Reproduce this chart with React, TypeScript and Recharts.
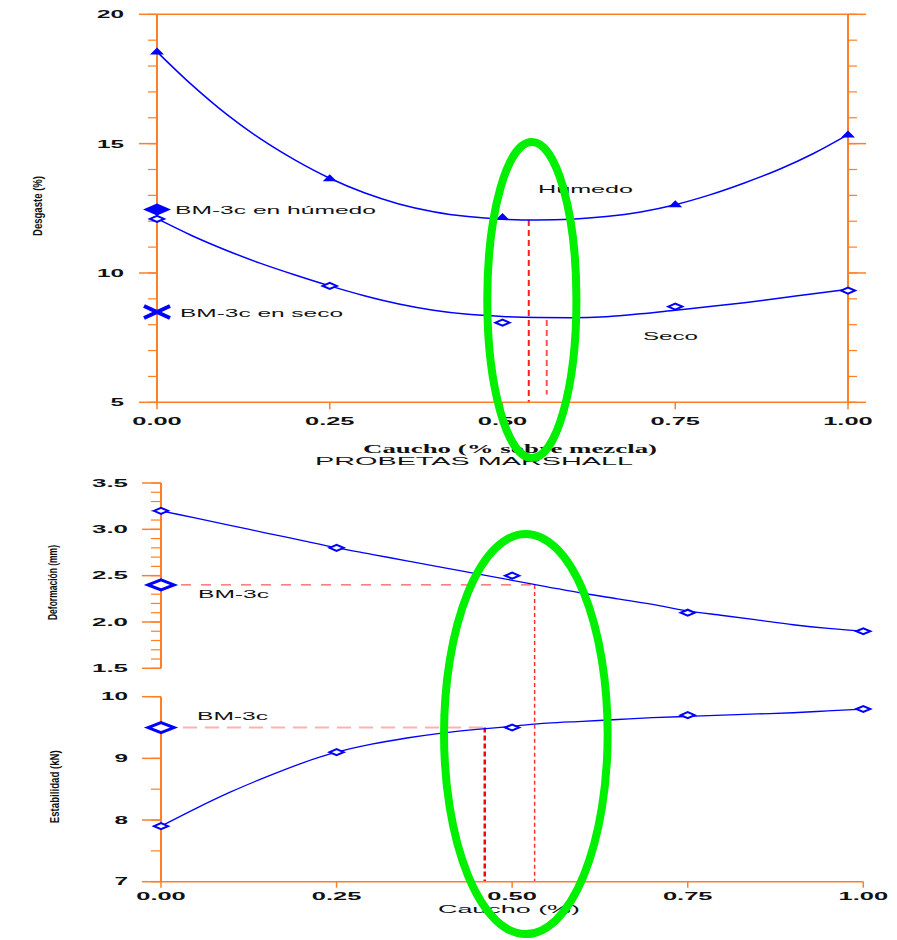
import React from "react";
import { ComposedChart, Line, Scatter, XAxis, YAxis, ReferenceLine } from "recharts";

// puntos de ensayo (caucho % sobre mezcla)
const caucho = [0, 0.25, 0.5, 0.75, 1];
const desgasteHumedo = [18.58, 13.68, 12.18, 12.68, 15.37];
const desgasteSeco = [12.09, 9.5, 8.08, 8.7, 9.32];
const deformacion = [3.2, 2.8, 2.5, 2.1, 1.9];
const estabilidad = [7.9, 9.1, 9.5, 9.7, 9.8];

const ajusteCaucho = [0, 0.05, 0.1, 0.15, 0.2, 0.25, 0.3, 0.35, 0.4, 0.45, 0.5, 0.55, 0.6, 0.65, 0.7, 0.75, 0.8, 0.85, 0.9, 0.95, 1];
const ajusteHumedo = [18.55, 17.28, 16.15, 15.18, 14.36, 13.66, 13.1, 12.67, 12.37, 12.18, 12.08, 12.05, 12.08, 12.18, 12.36, 12.64, 13.02, 13.48, 14.0, 14.62, 15.35];
const ajusteSeco = [12.1, 11.45, 10.88, 10.37, 9.92, 9.5, 9.12, 8.8, 8.56, 8.4, 8.32, 8.28, 8.27, 8.31, 8.42, 8.56, 8.7, 8.85, 9.02, 9.2, 9.37];
const ajusteDeformacion = [3.2, 3.12, 3.04, 2.96, 2.88, 2.8, 2.73, 2.66, 2.59, 2.52, 2.45, 2.38, 2.31, 2.25, 2.19, 2.12, 2.07, 2.02, 1.97, 1.93, 1.9];
const ajusteEstabilidad = [7.9, 8.19, 8.46, 8.7, 8.92, 9.1, 9.23, 9.33, 9.41, 9.47, 9.52, 9.57, 9.6, 9.63, 9.66, 9.68, 9.7, 9.72, 9.74, 9.77, 9.8];

// referencia BM-3c y contenidos de caucho que la igualan
const bmHumedo = 12.45;
const bmSeco = 8.49;
const bmDeformacion = 2.4;
const bmEstabilidad = 9.5;
const optHumedo = 0.538;
const optSeco = 0.564;
const optDeformacion = 0.532;
const optEstabilidad = 0.461;
const minHumedo = 12.05;
const minSeco = 8.18;

// ticks
const xMajor = [0, 0.25, 0.5, 0.75, 1];
const xMinor = [0, 0.05, 0.1, 0.15, 0.2, 0.25, 0.3, 0.35, 0.4, 0.45, 0.5, 0.55, 0.6, 0.65, 0.7, 0.75, 0.8, 0.85, 0.9, 0.95, 1];
const desgasteMajor = [5, 10, 15, 20];
const desgasteMinor = [5, 6, 7, 8, 9, 10, 11, 12, 13, 14, 15, 16, 17, 18, 19, 20];
const deformMajor = [1.5, 2, 2.5, 3, 3.5];
const deformMinor = [1.5, 1.6, 1.7, 1.8, 1.9, 2, 2.1, 2.2, 2.3, 2.4, 2.5, 2.6, 2.7, 2.8, 2.9, 3, 3.1, 3.2, 3.3, 3.4, 3.5];
const estabMajor = [7, 8, 9, 10];
const estabMinor = [7, 7.5, 8, 8.5, 9, 9.5, 10];

const ORANGE = "#ff7f27";
const BLUE = "#0000ff";
const RED = "#ff1a1a";
const GREEN = "#00f000";
const SANS = "'Liberation Sans', Arial, sans-serif";
const SERIF = "'Liberation Serif', 'Times New Roman', serif";
const W = 897;
const AX = 0.001; // axes take no room; margins place the plot

// plot boxes (pixels on the page)
const plotA = { top: 0, h: 440, x0: 157, x1: 848, yb: 402.3, yt: 14.3, lo: 5, hi: 20 };
const plotB = { top: 470, h: 230, x0: 161, x1: 863.3, yb: 668.3, yt: 483, lo: 1.5, hi: 3.5 };
const plotC = { top: 680, h: 260, x0: 161, x1: 863.3, yb: 881.7, yt: 696.7, lo: 7, hi: 10 };

const marginOf = (p: any) => ({ left: p.x0, right: W - p.x1, top: p.yt - p.top, bottom: p.top + p.h - p.yb });
const sx = (p: any, v: number) => p.x0 + v * (p.x1 - p.x0);
const sy = (p: any, v: number) => p.yb - ((v - p.lo) / (p.hi - p.lo)) * (p.yb - p.yt);

// ellipses verdes (en unidades de datos)
const elipseA = { x: [0.478, 0.607], y: [2.85, 15.06] };
const elipseC = { x: [0.403, 0.636], y: [6.15, 12.64] };

const pts = (xs: number[], ys: number[]) => xs.map((x, i) => ({ x, y: ys[i] }));

function StretchText({ x, y, w, text, size, anchor = "start", family = SANS, weight = 400 }: any) {
  const x0 = anchor === "end" ? x - w : anchor === "middle" ? x - w / 2 : x;
  return (
    <text x={x0} y={y} fontSize={size} fontFamily={family} fontWeight={weight} fill="#111" textLength={w} lengthAdjust="spacingAndGlyphs">
      {text}
    </text>
  );
}

function VText({ x, cy, w, text, size }: any) {
  return (
    <g transform={`rotate(-90 ${x} ${cy})`}>
      <StretchText x={x} y={cy} w={w} text={text} size={size} anchor="middle" weight={700} />
    </g>
  );
}

const labelW = (s: string, digit: number, dot: number) => s.split("").reduce((w, c) => w + (c === "." ? dot : digit), 0);

const yTick = (dec: number, size: number) => (p: any) => {
  const s = Number(p.payload.value).toFixed(dec);
  return <StretchText key={s} x={p.x} y={p.y + size * 0.37} w={labelW(s, 13.5, 9)} text={s} size={size} anchor="end" weight={700} />;
};
const xTick = (size: number) => (p: any) => {
  const s = Number(p.payload.value).toFixed(2);
  return <StretchText key={s} x={p.x} y={p.y + size * 0.72} w={labelW(s, 13.5, 9)} text={s} size={size} anchor="middle" weight={700} />;
};
// tick marks without labels
const NoLabel = () => <g />;

const Triangle = (p: any) => (
  <polygon points={`${p.cx - 7},${p.cy + 3.5} ${p.cx + 7},${p.cy + 3.5} ${p.cx},${p.cy - 3.5}`} fill={BLUE} />
);
const Diamond = (p: any) => (
  <polygon points={`${p.cx - 7},${p.cy} ${p.cx},${p.cy - 3} ${p.cx + 7},${p.cy} ${p.cx},${p.cy + 3}`} fill="#fff" stroke={BLUE} strokeWidth={2} />
);
const BigDiamond = (p: any) => (
  <polygon points={`${p.cx - 14},${p.cy} ${p.cx},${p.cy - 6} ${p.cx + 14},${p.cy} ${p.cx},${p.cy + 6}`} fill={BLUE} />
);
const BigCross = (p: any) => (
  <g stroke={BLUE} strokeWidth={4}>
    <line x1={p.cx - 13} y1={p.cy - 6} x2={p.cx + 13} y2={p.cy + 6} />
    <line x1={p.cx - 13} y1={p.cy + 6} x2={p.cx + 13} y2={p.cy - 6} />
  </g>
);
const BigOpenDiamond = (p: any) => (
  <polygon points={`${p.cx - 13},${p.cy} ${p.cx},${p.cy - 5} ${p.cx + 13},${p.cy} ${p.cx},${p.cy + 5}`} fill="#fff" stroke={BLUE} strokeWidth={3} />
);

const axisLineY = { stroke: ORANGE, strokeWidth: 2 };
const axisLineX = { stroke: ORANGE, strokeWidth: 1.5 };
const tickLine = { stroke: ORANGE, strokeWidth: 1.5 };
const minorLine = { stroke: ORANGE, strokeWidth: 1.2 };

function ChartDesgaste() {
  const m = marginOf(plotA);
  return (
    <ComposedChart width={W} height={plotA.h} margin={m}>
      <XAxis xAxisId="b" dataKey="x" type="number" domain={[0, 1]} ticks={xMajor} interval={0} height={AX} tickSize={7} tickMargin={8} axisLine={axisLineX} tickLine={tickLine} tick={xTick(11)} />
      <XAxis xAxisId="bm" type="number" domain={[0, 1]} allowDataOverflow ticks={xMinor} interval={0} height={AX} tickSize={4} axisLine={false} tickLine={minorLine} tick={NoLabel} />
      <XAxis xAxisId="t" orientation="top" type="number" domain={[0, 1]} allowDataOverflow ticks={xMajor} interval={0} height={AX} tickSize={7} axisLine={axisLineX} tickLine={tickLine} tick={NoLabel} />
      <XAxis xAxisId="tm" orientation="top" type="number" domain={[0, 1]} allowDataOverflow ticks={xMinor} interval={0} height={AX} tickSize={3} axisLine={false} tickLine={minorLine} tick={NoLabel} />
      <YAxis yAxisId="l" type="number" domain={[plotA.lo, plotA.hi]} ticks={desgasteMajor} interval={0} width={AX} tickSize={18} tickMargin={15} axisLine={axisLineY} tickLine={tickLine} tick={yTick(0, 11)} />
      <YAxis yAxisId="lm" type="number" domain={[plotA.lo, plotA.hi]} allowDataOverflow ticks={desgasteMinor} interval={0} width={AX} tickSize={9} axisLine={false} tickLine={minorLine} tick={NoLabel} />
      <YAxis yAxisId="r" orientation="right" type="number" domain={[plotA.lo, plotA.hi]} allowDataOverflow ticks={desgasteMajor} interval={0} width={AX} tickSize={18} axisLine={axisLineY} tickLine={tickLine} tick={NoLabel} />
      <YAxis yAxisId="rm" orientation="right" type="number" domain={[plotA.lo, plotA.hi]} allowDataOverflow ticks={desgasteMinor} interval={0} width={AX} tickSize={9} axisLine={false} tickLine={minorLine} tick={NoLabel} />

      <ReferenceLine xAxisId="b" yAxisId="l" segment={[{ x: optHumedo, y: minHumedo }, { x: optHumedo, y: plotA.lo }]} stroke={RED} strokeWidth={2} strokeDasharray="6 4" />
      <ReferenceLine xAxisId="b" yAxisId="l" segment={[{ x: optSeco, y: minSeco }, { x: optSeco, y: 5.3 }]} stroke="#ff5050" strokeWidth={2} strokeDasharray="6 4" />

      <Line xAxisId="b" yAxisId="l" data={pts(ajusteCaucho, ajusteHumedo)} dataKey="y" type="monotone" dot={false} stroke={BLUE} strokeWidth={1.5} isAnimationActive={false} />
      <Line xAxisId="b" yAxisId="l" data={pts(ajusteCaucho, ajusteSeco)} dataKey="y" type="monotone" dot={false} stroke={BLUE} strokeWidth={1.5} isAnimationActive={false} />
      <Scatter xAxisId="b" yAxisId="l" data={pts(caucho, desgasteHumedo)} dataKey="y" shape={Triangle} isAnimationActive={false} />
      <Scatter xAxisId="b" yAxisId="l" data={pts(caucho, desgasteSeco)} dataKey="y" shape={Diamond} isAnimationActive={false} />
      <Scatter xAxisId="b" yAxisId="l" data={[{ x: 0, y: bmHumedo }]} dataKey="y" shape={BigDiamond} isAnimationActive={false} />
      <Scatter xAxisId="b" yAxisId="l" data={[{ x: 0, y: bmSeco }]} dataKey="y" shape={BigCross} isAnimationActive={false} />
    </ComposedChart>
  );
}

function ChartDeformacion() {
  const m = marginOf(plotB);
  return (
    <ComposedChart width={W} height={plotB.h} margin={m}>
      <XAxis xAxisId="b" dataKey="x" type="number" domain={[0, 1]} hide />
      <YAxis yAxisId="l" type="number" domain={[plotB.lo, plotB.hi]} ticks={deformMajor} interval={0} width={AX} tickSize={19} tickMargin={14} axisLine={axisLineY} tickLine={tickLine} tick={yTick(1, 10)} />
      <YAxis yAxisId="lm" type="number" domain={[plotB.lo, plotB.hi]} allowDataOverflow ticks={deformMinor} interval={0} width={AX} tickSize={10} axisLine={false} tickLine={minorLine} tick={NoLabel} />

      <ReferenceLine xAxisId="b" yAxisId="l" segment={[{ x: 0, y: bmDeformacion }, { x: optDeformacion, y: bmDeformacion }]} stroke="#ff5a5a" strokeWidth={1.2} strokeDasharray="10 10" />
      <ReferenceLine xAxisId="b" yAxisId="l" ifOverflow="visible" segment={[{ x: optDeformacion, y: bmDeformacion }, { x: optDeformacion, y: 1.2 }]} stroke="#ff3030" strokeWidth={1.5} strokeDasharray="4 3" />

      <Line xAxisId="b" yAxisId="l" data={pts(ajusteCaucho, ajusteDeformacion)} dataKey="y" type="monotone" dot={false} stroke={BLUE} strokeWidth={1.3} isAnimationActive={false} />
      <Scatter xAxisId="b" yAxisId="l" data={pts(caucho, deformacion)} dataKey="y" shape={Diamond} isAnimationActive={false} />
      <Scatter xAxisId="b" yAxisId="l" data={[{ x: 0, y: bmDeformacion }]} dataKey="y" shape={BigOpenDiamond} isAnimationActive={false} />
    </ComposedChart>
  );
}

function ChartEstabilidad() {
  const m = marginOf(plotC);
  return (
    <ComposedChart width={W} height={plotC.h} margin={m}>
      <XAxis xAxisId="b" dataKey="x" type="number" domain={[0, 1]} ticks={xMajor} interval={0} height={AX} tickSize={6} tickMargin={5} axisLine={axisLineX} tickLine={tickLine} tick={xTick(10)} />
      <XAxis xAxisId="bm" type="number" domain={[0, 1]} allowDataOverflow ticks={xMinor} interval={0} height={AX} tickSize={3.5} axisLine={false} tickLine={minorLine} tick={NoLabel} />
      <YAxis yAxisId="l" type="number" domain={[plotC.lo, plotC.hi]} ticks={estabMajor} interval={0} width={AX} tickSize={19} tickMargin={14} axisLine={axisLineY} tickLine={tickLine} tick={yTick(0, 10)} />
      <YAxis yAxisId="lm" type="number" domain={[plotC.lo, plotC.hi]} allowDataOverflow ticks={estabMinor} interval={0} width={AX} tickSize={10} axisLine={false} tickLine={minorLine} tick={NoLabel} />

      <ReferenceLine xAxisId="b" yAxisId="l" segment={[{ x: 0, y: bmEstabilidad }, { x: optEstabilidad, y: bmEstabilidad }]} stroke="#ffb0b0" strokeWidth={2} strokeDasharray="14 8" />
      <ReferenceLine xAxisId="b" yAxisId="l" segment={[{ x: optEstabilidad, y: bmEstabilidad }, { x: optEstabilidad, y: plotC.lo }]} stroke="#ff0000" strokeWidth={2.5} strokeDasharray="5 3" />
      <ReferenceLine xAxisId="b" yAxisId="l" segment={[{ x: optDeformacion, y: plotC.hi }, { x: optDeformacion, y: plotC.lo }]} stroke="#ff3030" strokeWidth={1.5} strokeDasharray="4 3" />

      <Line xAxisId="b" yAxisId="l" data={pts(ajusteCaucho, ajusteEstabilidad)} dataKey="y" type="monotone" dot={false} stroke={BLUE} strokeWidth={1.3} isAnimationActive={false} />
      <Scatter xAxisId="b" yAxisId="l" data={pts(caucho, estabilidad)} dataKey="y" shape={Diamond} isAnimationActive={false} />
      <Scatter xAxisId="b" yAxisId="l" data={[{ x: 0, y: bmEstabilidad }]} dataKey="y" shape={BigOpenDiamond} isAnimationActive={false} />
    </ComposedChart>
  );
}

function Ellipse({ p, e }: any) {
  const xa = sx(p, e.x[0]);
  const xb = sx(p, e.x[1]);
  const ya = sy(p, e.y[1]);
  const yb = sy(p, e.y[0]);
  return <ellipse cx={(xa + xb) / 2} cy={(ya + yb) / 2} rx={(xb - xa) / 2} ry={(yb - ya) / 2} fill="none" stroke={GREEN} strokeWidth={8} />;
}

export default function App() {
  return (
    <div style={{ position: "absolute", left: 0, top: 0, width: W, height: 940, background: "#fff", overflow: "hidden" }}>
      <div style={{ position: "absolute", left: 0, top: plotA.top }}>
        <ChartDesgaste />
      </div>
      <div style={{ position: "absolute", left: 0, top: plotB.top }}>
        <ChartDeformacion />
      </div>
      <div style={{ position: "absolute", left: 0, top: plotC.top }}>
        <ChartEstabilidad />
      </div>
      <svg width={W} height={940} style={{ position: "absolute", left: 0, top: 0, pointerEvents: "none" }}>
        <VText x={41.7} cy={206} w={60} text="Desgaste (%)" size={13} />
        <StretchText x={175} y={213.5} w={201} text="BM-3c en húmedo" size={11} />
        <StretchText x={180} y={316.5} w={163} text="BM-3c en seco" size={11} />
        <StretchText x={538} y={193.3} w={95} text="Húmedo" size={11} />
        <StretchText x={643} y={340} w={55} text="Seco" size={11} />
        <StretchText x={363} y={453} w={294} text="Caucho (% sobre mezcla)" size={13} family={SERIF} weight={700} />
        <StretchText x={315} y={465} w={318} text="PROBETAS MARSHALL" size={10.5} />
        <VText x={56.7} cy={582.5} w={75} text="Deformación (mm)" size={12} />
        <StretchText x={198} y={597.5} w={71} text="BM-3c" size={10} />
        <StretchText x={197} y={719.5} w={71} text="BM-3c" size={10} />
        <VText x={59.3} cy={786.7} w={73} text="Estabilidad (kN)" size={12} />
        <StretchText x={438} y={912.5} w={142} text="Caucho (%)" size={10} />
        <Ellipse p={plotA} e={elipseA} />
        <Ellipse p={plotC} e={elipseC} />
      </svg>
    </div>
  );
}
